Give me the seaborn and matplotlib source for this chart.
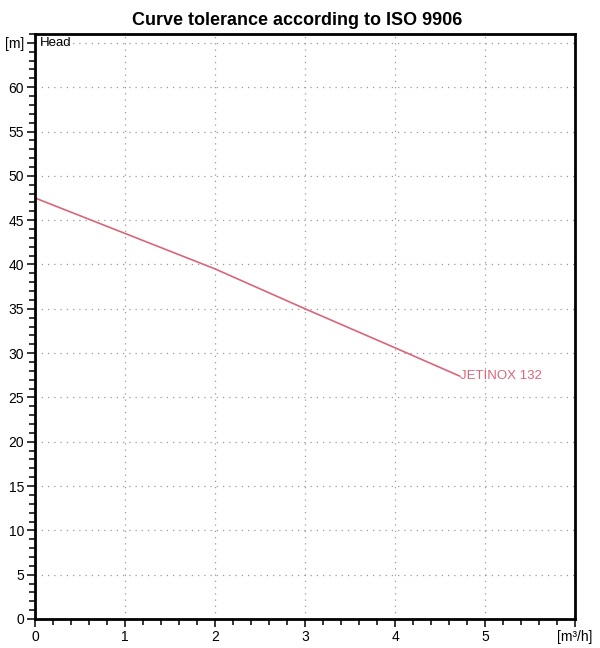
import numpy as np
import pandas as pd
import seaborn as sns
import matplotlib.pyplot as plt
from matplotlib.ticker import MultipleLocator

# datos
caudal = [0.0, 1.0, 2.0, 3.0, 4.0, 4.72]
altura = [47.5, 43.5, 39.5, 35.0, 30.6, 27.4]
nombre = "JETINOX 132"
xticks = [0, 1, 2, 3, 4, 5, 6]
xlabels = ["0", "1", "2", "3", "4", "5", "[m³/h]"]
yticks = list(range(0, 70, 5))
ylabels = [str(v) for v in yticks[:-1]] + ["[m]"]

df = pd.DataFrame({"Q": caudal, "H": altura})
color = "#d8667a"

sns.set_style("white")
plt.rcParams['font.family'] = ['Liberation Sans', 'DejaVu Sans']
plt.rcParams['text.color'] = 'black'
plt.rcParams['xtick.labelcolor'] = 'black'
plt.rcParams['ytick.labelcolor'] = 'black'

fig = plt.figure(figsize=(6, 6.48), dpi=100)
ax = fig.add_axes([35/600, 1 - 619/648, 540/600, 585/648])

sns.lineplot(x="Q", y="H", data=df, color=color, linewidth=1.2, ax=ax)
ax.text(caudal[-1], altura[-1], nombre, color=color, fontsize=9.5,
        ha="left", va="center")

ax.set_xlim(0, 6)
ax.set_ylim(0, 66)
ax.set_xticks(xticks)
ax.set_xticklabels(xlabels)
ax.set_yticks(yticks)
ax.set_yticklabels(ylabels)
ax.xaxis.set_minor_locator(MultipleLocator(0.2))
ax.yaxis.set_minor_locator(MultipleLocator(1))
ax.tick_params(axis="both", which="major", length=6, width=1.1, direction="out",
               labelsize=10, pad=2, color="black", labelcolor="black",
               left=True, bottom=True)
ax.tick_params(axis="both", which="minor", length=4, width=1.1, direction="out",
               color="black", left=True, bottom=True)
ax.grid(True, which="major", linestyle=(0, (1, 4)), color="#9a9a9a", linewidth=0.9)

for s in ax.spines.values():
    s.set_color("black")
    s.set_linewidth(2)

ax.set_xlabel("")
ax.set_ylabel("")
ax.text(0.05, 65, "Head", fontsize=9.5, ha="left", va="center", color="black")

fig.suptitle("Curve tolerance according to ISO 9906", fontsize=13,
             fontweight="bold", x=0.495, y=0.982, color="black")

plt.savefig("out.png", dpi=100)
